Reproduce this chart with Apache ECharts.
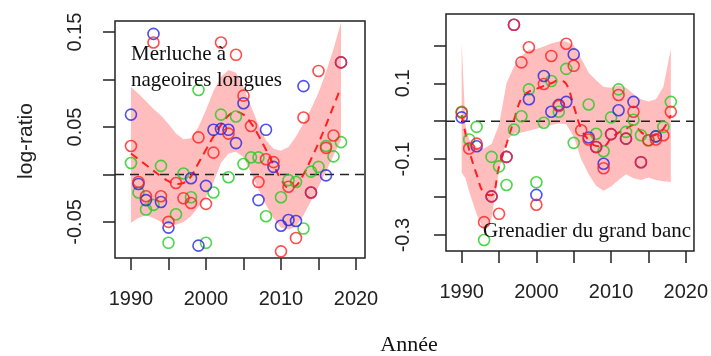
<!DOCTYPE html>
<html>
<head>
<meta charset="utf-8">
<script src="https://cdn.jsdelivr.net/npm/echarts@6/dist/echarts.min.js"></script>
<style>
  html, body { margin: 0; padding: 0; background: #fff; }
  #chart { width: 711px; height: 356px; }
</style>
</head>
<body>
<div id="chart"></div>
<script>
// années
var years = [1990,1991,1992,1993,1994,1995,1996,1997,1998,1999,2000,2001,2002,2003,2004,
             2005,2006,2007,2008,2009,2010,2011,2012,2013,2014,2015,2016,2017,2018];

// Merluche à nageoires longues
var hakeBlue  = [0.063,-0.010,-0.027,0.148,-0.029,-0.056,null,null,-0.004,-0.075,-0.012,0.047,0.048,0.047,0.033,
                 0.075,null,-0.027,0.047,0.008,-0.054,-0.048,-0.049,0.093,-0.019,null,-0.001,null,0.118];
var hakeRed   = [0.030,-0.008,-0.023,0.139,-0.023,-0.050,-0.009,-0.025,-0.030,0.039,-0.031,0.023,0.139,0.043,0.126,
                 0.083,0.051,-0.008,0.016,0.013,-0.081,-0.013,-0.067,0.060,-0.019,0.109,0.028,0.041,0.118];
var hakeGreen = [0.012,-0.019,-0.037,-0.032,0.009,-0.072,-0.042,0.001,-0.024,0.089,-0.072,-0.019,0.063,-0.003,0.061,
                 0.011,0.018,0.018,-0.044,null,-0.024,-0.006,-0.008,-0.057,0.003,0.008,0.030,0.019,0.034];
var hakeTrend = [0.022,0.016,0.010,0.004,-0.002,-0.007,-0.010,-0.009,-0.002,0.012,0.026,0.040,0.052,0.062,0.066,
                 0.063,0.054,0.041,0.026,0.010,-0.005,-0.014,-0.012,0.000,0.016,0.033,0.052,0.072,0.092];
var hakeHi    = [0.092,0.085,0.077,0.069,0.062,0.053,0.043,0.037,0.038,0.050,0.068,0.088,0.103,0.110,0.107,
                 0.092,0.072,0.052,0.036,0.027,0.025,0.029,0.040,0.054,0.069,0.086,0.108,0.132,0.160];
var hakeLo    = [-0.051,-0.046,-0.043,-0.046,-0.050,-0.053,-0.053,-0.050,-0.044,-0.034,-0.024,-0.008,0.012,0.022,0.024,
                 0.018,0.002,-0.016,-0.032,-0.046,-0.056,-0.058,-0.055,-0.043,-0.028,-0.013,0.003,0.020,0.036];

// Grenadier du grand banc
var grenBlue  = [0.010,null,-0.066,null,-0.198,null,-0.094,0.254,null,0.058,-0.194,0.119,0.025,0.043,0.051,
                 0.176,null,-0.043,-0.068,-0.112,-0.034,0.029,-0.046,0.051,-0.108,null,-0.040,null,null];
var grenRed   = [0.023,-0.072,-0.059,-0.266,-0.198,-0.244,-0.094,0.254,0.155,0.195,-0.220,0.098,0.172,0.040,0.204,
                 0.146,-0.024,-0.048,-0.068,-0.124,-0.034,0.069,-0.046,0.025,-0.108,-0.050,-0.048,-0.037,0.025];
var grenGreen = [0.025,-0.048,-0.015,-0.313,-0.094,-0.119,-0.168,-0.022,0.013,0.084,-0.161,-0.004,0.106,0.025,0.138,
                 -0.057,null,0.044,-0.033,-0.079,0.010,0.084,-0.028,0.004,-0.037,-0.050,-0.040,-0.015,0.051];
var grenTrend = [0.016,-0.075,-0.140,-0.190,-0.195,-0.120,-0.060,0.003,0.060,0.078,0.085,0.093,0.100,0.108,0.098,
                 0.040,-0.020,-0.050,-0.065,-0.066,-0.045,-0.030,-0.020,-0.010,-0.028,-0.040,-0.035,-0.020,0.016];
var grenBandYears = [1990,1990.5,1991,1992,1993,1994,1995,1996,1997,1998,1999,2000,2001,2002,2003,2004,
                     2005,2006,2007,2008,2009,2010,2011,2012,2013,2014,2015,2016,2017,2018];
var grenHi    = [0.205,-0.010,-0.048,-0.068,-0.072,-0.060,-0.010,0.100,0.144,0.172,0.188,0.190,0.197,0.205,0.210,0.210,
                 0.200,0.165,0.128,0.108,0.090,0.088,0.095,0.088,0.072,0.058,0.052,0.058,0.090,0.190];
var grenLo    = [-0.135,-0.150,-0.185,-0.245,-0.290,-0.255,-0.130,-0.050,-0.033,-0.030,-0.025,-0.020,-0.015,-0.010,-0.006,-0.008,
                 -0.040,-0.100,-0.140,-0.170,-0.183,-0.172,-0.155,-0.140,-0.150,-0.155,-0.148,-0.155,-0.158,-0.160];

var xTicks = [1990,1995,2000,2005,2010,2015,2020];
var xLabels = [1990,2000,2010,2020];
var hakeYTicks = [-0.05,0,0.05,0.10,0.15];
var hakeYLabels = [-0.05,0.05,0.15];
var grenYTicks = [-0.3,-0.2,-0.1,0,0.1,0.2];
var grenYLabels = [-0.3,-0.1,0.1];

// bornes des axes
var hakeX = [1987.87, 2021.2], hakeY = [-0.088, 0.1616];
var grenX = [1987.9, 2021.1],  grenY = [-0.342, 0.2825];

var BLUE = '#2424e6', RED = '#ff1f1f', GREEN = '#1fcc1f', BAND = '#ffbdbd', INK = '#222';

function pairs(xs, ys) {
  return xs.map(function (x, i) { return [x, ys[i]]; }).filter(function (p) { return p[1] != null; });
}

function band(xs, lo, hi, idx) {
  return {
    type: 'custom', xAxisIndex: idx, yAxisIndex: idx, silent: true, z: 1,
    data: xs.map(function (x, i) { return [x, lo[i], hi[i]]; }),
    encode: { x: 0, y: [1, 2] },
    renderItem: function (params, api) {
      if (params.dataIndex !== 0) return;
      var pts = [];
      for (var i = 0; i < xs.length; i++) pts.push(api.coord([xs[i], hi[i]]));
      for (var j = xs.length - 1; j >= 0; j--) pts.push(api.coord([xs[j], lo[j]]));
      return { type: 'polygon', shape: { points: pts }, style: { fill: BAND } };
    }
  };
}

function dots(ys, color, idx) {
  return {
    type: 'scatter', xAxisIndex: idx, yAxisIndex: idx, z: 4,
    data: pairs(years, ys), symbol: 'circle', symbolSize: 11,
    itemStyle: { color: 'rgba(0,0,0,0)', borderColor: color, borderWidth: 1.6 }
  };
}

function trend(ys, idx) {
  return {
    type: 'line', xAxisIndex: idx, yAxisIndex: idx, z: 3,
    data: pairs(years, ys), smooth: 0.4, showSymbol: false,
    lineStyle: { color: RED, width: 2, type: [8, 6] }
  };
}

// ligne de référence y = 0
function zero(range, idx) {
  return {
    type: 'line', xAxisIndex: idx, yAxisIndex: idx, z: 2, silent: true,
    data: [[range[0], 0], [range[1], 0]], showSymbol: false,
    lineStyle: { color: INK, width: 1.6, type: [9, 6] }
  };
}

function xAxis(idx, range) {
  return {
    type: 'value', gridIndex: idx, min: range[0], max: range[1],
    axisLine: { show: false, onZero: false }, splitLine: { show: false },
    axisTick: { show: true, length: 12, customValues: xTicks, lineStyle: { color: INK, width: 1.5 } },
    axisLabel: { customValues: xLabels, margin: 31, color: INK,
                 fontFamily: 'Liberation Sans', fontSize: 20,
                 formatter: function (v) { return String(v); } }
  };
}

function yAxis(idx, range, ticks, labels, digits, margin) {
  return {
    type: 'value', gridIndex: idx, min: range[0], max: range[1],
    axisLine: { show: false, onZero: false }, splitLine: { show: false },
    axisTick: { show: true, length: 12, customValues: ticks, lineStyle: { color: INK, width: 1.5 } },
    axisLabel: { customValues: labels, rotate: 90, margin: margin, color: INK,
                 fontFamily: 'Liberation Sans', fontSize: 20,
                 formatter: function (v) { return v.toFixed(digits); } }
  };
}

var myChart = echarts.init(document.getElementById('chart'), null, { renderer: 'canvas' });
var option = {
  animation: false,
  backgroundColor: '#fff',
  grid: [
    { left: 115, top: 21, width: 250, height: 237, show: true, borderColor: INK, borderWidth: 1.5, backgroundColor: 'transparent' },
    { left: 446, top: 14, width: 248, height: 237, show: true, borderColor: INK, borderWidth: 1.5, backgroundColor: 'transparent' }
  ],
  xAxis: [ xAxis(0, hakeX), xAxis(1, grenX) ],
  yAxis: [
    yAxis(0, hakeY, hakeYTicks, hakeYLabels, 2, 30),
    yAxis(1, grenY, grenYTicks, grenYLabels, 1, 33)
  ],
  graphic: [
    { type: 'text', left: 131, top: 41, z: 10,
      style: { text: 'Merluche à\nnageoires longues', font: '21px "Liberation Serif"', fill: '#111', lineHeight: 26 } },
    { type: 'text', left: 483, top: 221, z: 10,
      style: { text: 'Grenadier du grand banc', font: '21px "Liberation Serif"', fill: '#111' } },
    { type: 'text', x: 26, y: 141, rotation: Math.PI / 2, z: 10,
      style: { text: 'log-ratio', font: '21px "Liberation Sans"', fill: INK, align: 'center', verticalAlign: 'middle' } },
    { type: 'text', x: 409, y: 345, z: 10,
      style: { text: 'Année', font: '22px "Liberation Serif"', fill: '#111', align: 'center', verticalAlign: 'middle' } }
  ],
  series: [
    band(years, hakeLo, hakeHi, 0),
    zero(hakeX, 0),
    trend(hakeTrend, 0),
    dots(hakeGreen, GREEN, 0),
    dots(hakeBlue, BLUE, 0),
    dots(hakeRed, RED, 0),
    band(grenBandYears, grenLo, grenHi, 1),
    zero(grenX, 1),
    trend(grenTrend, 1),
    dots(grenGreen, GREEN, 1),
    dots(grenBlue, BLUE, 1),
    dots(grenRed, RED, 1)
  ]
};
myChart.setOption(option);
window.addEventListener('resize', myChart.resize);
</script>
</body>
</html>
